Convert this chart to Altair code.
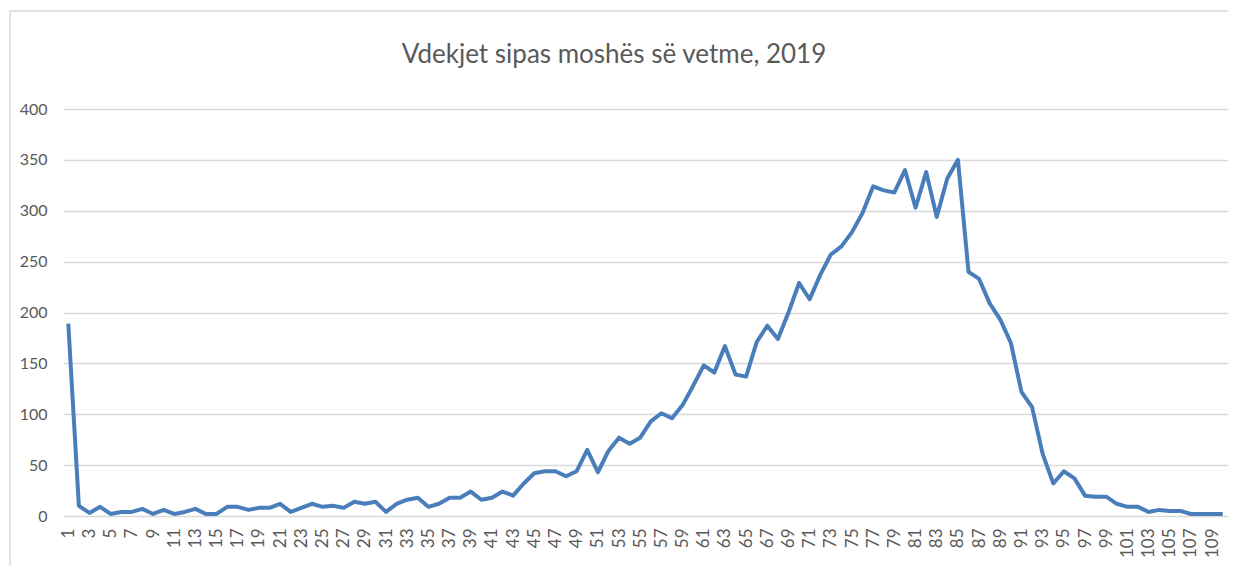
import altair as alt
import pandas as pd

ages = list(range(1, 111))
deaths = [
    189, 10, 3, 9, 2, 4, 4, 7, 2, 6,
    2, 4, 7, 2, 2, 9, 9, 6, 8, 8,
    12, 4, 8, 12, 9, 10, 8, 14, 12, 14,
    4, 12, 16, 18, 9, 12, 18, 18, 24, 16,
    18, 24, 20, 32, 42, 44, 44, 39, 44, 65,
    43, 64, 77, 71, 77, 93, 101, 96, 109, 128,
    148, 141, 167, 139, 137, 171, 187, 174, 200, 229,
    213, 237, 257, 265, 279, 298, 324, 320, 318, 340,
    303, 338, 294, 332, 350, 240, 233, 209, 193, 170,
    122, 107, 61, 32, 44, 37, 20, 19, 19, 12,
    9, 9, 4, 6, 5, 5, 2, 2, 2, 2,
]
y_ticks = [0, 50, 100, 150, 200, 250, 300, 350, 400]
x_labels = [a for a in ages if a % 2 == 1]
title_text = "Vdekjet sipas moshës së vetme, 2019"

df = pd.DataFrame({"age": ages, "deaths": deaths})

W, H = 1165, 407

line = alt.Chart(df).mark_line(color="#4a7ebb", strokeWidth=4, strokeJoin="round").encode(
    x=alt.X("age:O", sort=ages,
            scale=alt.Scale(type="point", padding=0.5),
            axis=alt.Axis(title=None, values=x_labels, labelAngle=-90, labelFontSize=17,
                          labelColor="#595959", labelFont="Lato", ticks=False, domain=False,
                          grid=False, labelPadding=12, labelBaseline="middle")),
    y=alt.Y("deaths:Q", scale=alt.Scale(domain=[0, 400], nice=False),
            axis=alt.Axis(title=None, values=y_ticks, labelFontSize=16, labelColor="#595959",
                          labelFont="Lato", ticks=False, domain=False, gridColor="#d9d9d9",
                          gridWidth=1.5, labelPadding=16)),
)

title = alt.Chart(pd.DataFrame({"t": [title_text]})).mark_text(
    font="Lato", fontSize=26, color="#595959", align="center", baseline="alphabetic"
).encode(text="t:N", x=alt.value(551), y=alt.value(-46))

frame = alt.Chart(pd.DataFrame({"a": [0]})).mark_rect(
    fill=None, stroke="#d9d9d9", strokeWidth=1.5
).encode(x=alt.value(-53), x2=alt.value(1240), y=alt.value(-98), y2=alt.value(600))

chart = alt.layer(frame, line, title).properties(
    width=W, height=H,
    autosize=alt.AutoSizeParams(type="none"),
    padding={"left": 55, "top": 101, "right": 0, "bottom": 50},
).configure_view(stroke=None)

chart.save("out.html", embed_options={"renderer": "svg", "actions": False})
